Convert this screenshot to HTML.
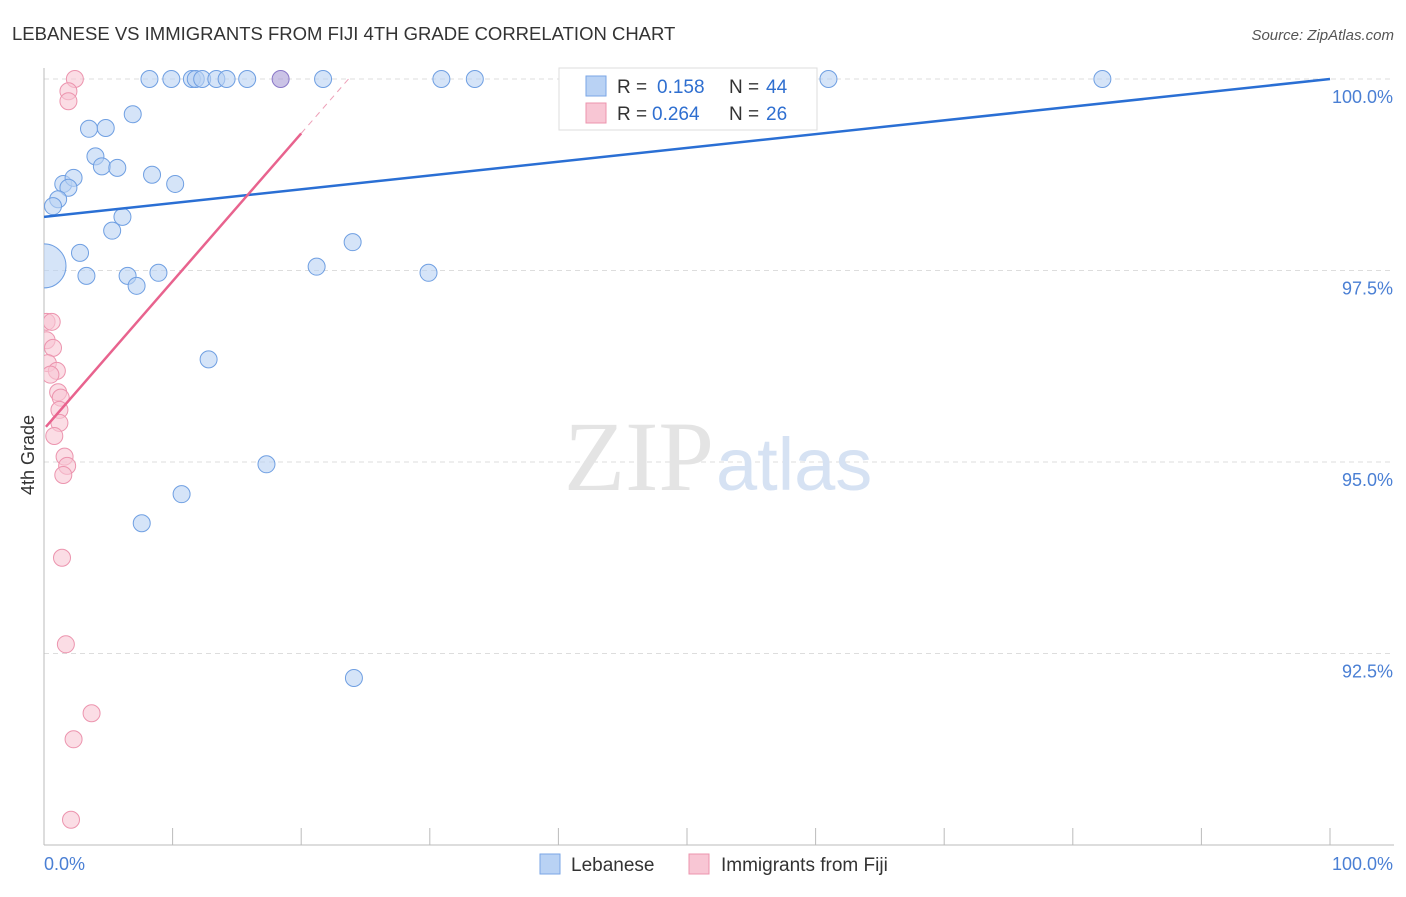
<!DOCTYPE html>
<html><head><meta charset="utf-8"><style>
body{margin:0;background:#fff;font-family:"Liberation Sans",sans-serif;}
svg text{font-family:"Liberation Sans",sans-serif;}
</style></head><body>
<svg id="chart" width="1406" height="892" xmlns="http://www.w3.org/2000/svg">
<defs><clipPath id="plotclip"><rect x="44" y="0" width="1362" height="845"/></clipPath></defs>
<text x="12" y="40" font-size="18.5" fill="#333">LEBANESE VS IMMIGRANTS FROM FIJI 4TH GRADE CORRELATION CHART</text>
<text x="1394" y="40" font-size="15" fill="#555" text-anchor="end" font-style="italic">Source: ZipAtlas.com</text>
<g id="grid"></g>
<text x="714" y="490" font-size="100" fill="#e4e4e4" text-anchor="end" style="font-family:'Liberation Serif',serif">ZIP</text>
<text x="716" y="490" font-size="74" fill="#d6e2f3">atlas</text>
<g id="axes"></g>
<g id="marks" clip-path="url(#plotclip)"></g>
<text transform="translate(34,455) rotate(-90)" font-size="18" fill="#333" text-anchor="middle">4th Grade</text>
<g>
<rect x="559" y="68" width="258" height="62" fill="#fff" stroke="#ddd"/>
<rect x="586" y="76" width="20" height="20" fill="#b9d2f4" stroke="#7aa6e6"/>
<text x="617" y="93" font-size="19" fill="#333">R = </text><text x="657" y="93" font-size="19" fill="#2f6fd0">0.158</text>
<text x="729" y="93" font-size="19" fill="#333">N = </text><text x="766" y="93" font-size="19" fill="#2f6fd0">44</text>
<rect x="586" y="103" width="20" height="20" fill="#f8c6d4" stroke="#ec94ae"/>
<text x="617" y="120" font-size="19" fill="#333">R = </text><text x="652" y="120" font-size="19" fill="#2f6fd0">0.264</text>
<text x="729" y="120" font-size="19" fill="#333">N = </text><text x="766" y="120" font-size="19" fill="#2f6fd0">26</text>
</g>
<g>
<rect x="540" y="854" width="20" height="20" fill="#b9d2f4" stroke="#7aa6e6"/>
<text x="571" y="871" font-size="19" fill="#333">Lebanese</text>
<rect x="689" y="854" width="20" height="20" fill="#f8c6d4" stroke="#ec94ae"/>
<text x="721" y="871" font-size="19" fill="#333">Immigrants from Fiji</text>
</g>
</svg>
<script>
const yTicks=[92.5,95,97.5,100];
const yTickLabels=["92.5%","95.0%","97.5%","100.0%"];
const xTicks=[0,10,20,30,40,50,60,70,80,90,100];
const xLabels=["0.0%","100.0%"];
const blueX=[8.2,9.9,11.5,11.8,12.3,13.4,14.2,15.8,21.7,30.9,33.5,61.0,82.3,6.9,3.5,4.8,4.0,4.5,5.7,8.4,10.2,1.5,2.3,1.9,1.1,0.7,6.1,5.3,24.0,2.8,21.2,29.9,3.3,6.5,8.9,7.2,12.8,17.3,10.7,7.6,24.1];
const blueY=[100,100,100,100,100,100,100,100,100,100,100,100,100,99.54,99.35,99.36,98.99,98.86,98.84,98.75,98.63,98.63,98.71,98.58,98.43,98.34,98.20,98.02,97.87,97.73,97.55,97.47,97.43,97.43,97.47,97.30,96.34,94.97,94.58,94.20,92.18];
const pinkX=[2.4,1.9,1.9,0.2,0.6,0.2,0.7,0.3,1.0,0.5,1.1,1.3,1.2,1.2,0.8,1.6,1.8,1.5,1.4,1.7,3.7,2.3,2.1];
const pinkY=[100,99.84,99.71,96.83,96.83,96.59,96.49,96.29,96.19,96.14,95.91,95.84,95.68,95.51,95.34,95.07,94.95,94.83,93.75,92.62,91.72,91.38,90.33];
const bigBlue=[0,97.56];
const overlap=[18.4,100];
const blueTrend=[98.2,100];
const pinkTrend=[95.43,0.193];
const X=v=>44+v*12.86, Y=v=>845-(v-90)*76.6;
const NS="http://www.w3.org/2000/svg";
function mk(t,a,p){const e=document.createElementNS(NS,t);for(const k in a)e.setAttribute(k,a[k]);p.appendChild(e);return e;}
const grid=document.getElementById('grid'),axes=document.getElementById('axes'),marks=document.getElementById('marks');
yTicks.forEach((v,i)=>{
 const l=mk('line',{x1:44,x2:1394,y1:Y(v),y2:Y(v),stroke:'#ddd','stroke-dasharray':'5,4'},grid);
 
 
 const t=mk('text',{x:1393,y:Y(v)+24,'font-size':18,fill:'#4a7fd4','text-anchor':'end'},axes);t.textContent=yTickLabels[i];
 
 
});
mk('line',{x1:44,x2:44,y1:68,y2:845,stroke:'#bbb'},axes);
mk('line',{x1:44,x2:1394,y1:845,y2:845,stroke:'#bbb'},axes);
xTicks.forEach(v=>{const l=mk('line',{x1:X(v),x2:X(v),y1:828,y2:845,stroke:'#bbb'},axes);
 
 });
let t1=mk('text',{x:44,y:870,'font-size':18,fill:'#4a7fd4'},axes);t1.textContent=xLabels[0];


let t2=mk('text',{x:1393,y:870,'font-size':18,fill:'#4a7fd4','text-anchor':'end'},axes);t2.textContent=xLabels[1];


function dot(x,y,r,f,s,name){const c=mk('circle',{cx:X(x),cy:Y(y),r:r,fill:f,'fill-opacity':0.6,stroke:s,'stroke-width':1},marks);
 
 }
dot(bigBlue[0],bigBlue[1],22,'#b9d2f4','#6f9fe2','lebanese-point-large');
blueX.forEach((x,i)=>dot(x,blueY[i],8.5,'#b9d2f4','#6f9fe2','lebanese-point'));
pinkX.forEach((x,i)=>dot(x,pinkY[i],8.5,'#f8c6d4','#ec94ae','fiji-point'));
dot(overlap[0],overlap[1],8.5,'#a99bd6','#8a78c8','overlap-point');
const bl=mk('line',{x1:X(0),y1:Y(blueTrend[0]),x2:X(100),y2:Y(blueTrend[1]),stroke:'#2a6fd4','stroke-width':2.5},marks);


const pl=mk('line',{x1:X(0.15),y1:Y(pinkTrend[0]+pinkTrend[1]*0.15),x2:X(20),y2:Y(pinkTrend[0]+pinkTrend[1]*20),stroke:'#e8638e','stroke-width':2.5},marks);


const xe=(100-pinkTrend[0])/pinkTrend[1];
const pd=mk('line',{x1:X(20),y1:Y(pinkTrend[0]+pinkTrend[1]*20),x2:X(xe),y2:Y(100),stroke:'#eea0b8','stroke-width':1,'stroke-dasharray':'6,5'},marks);


</script>
</body></html>
